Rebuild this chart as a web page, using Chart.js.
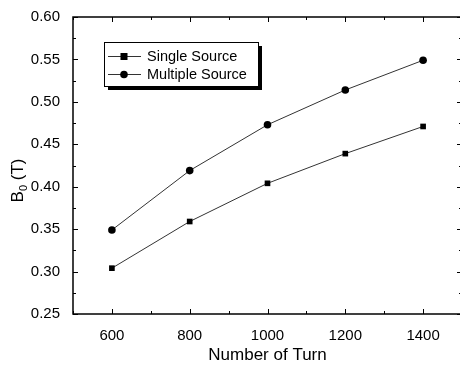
<!DOCTYPE html>
<html>
<head>
<meta charset="utf-8">
<script src="https://cdn.jsdelivr.net/npm/chart.js@4.4.1/dist/chart.umd.min.js"></script>
<style>
html, body { margin: 0; padding: 0; background: #fff; overflow: hidden; }
#wrap { width: 466px; height: 370px; }
</style>
</head>
<body>
<div id="wrap"><canvas id="chart"></canvas></div>
<script>
const turns = [600, 800, 1000, 1200, 1400];
const singleSource = [0.304, 0.359, 0.404, 0.439, 0.471];
const multipleSource = [0.349, 0.419, 0.473, 0.514, 0.549];
const xTicks = [600, 800, 1000, 1200, 1400];
const yTicks = [0.25, 0.30, 0.35, 0.40, 0.45, 0.50, 0.55, 0.60];
const seriesNames = ['Single Source', 'Multiple Source'];

const FONT = '"Liberation Sans", Arial, sans-serif';

// box frame with inward ticks, y title with subscript, shadowed legend
const framePlugin = {
  id: 'frame',
  afterDraw(chart) {
    const ctx = chart.ctx;
    const a = chart.chartArea;
    const xs = chart.scales.x, ys = chart.scales.y;
    ctx.save();
    ctx.strokeStyle = '#000';
    ctx.lineWidth = 1.5;
    ctx.strokeRect(a.left, a.top, a.right - a.left, a.bottom - a.top);

    ctx.lineWidth = 1;
    ctx.beginPath();
    const xStep = xTicks[1] - xTicks[0];
    for (let v = xs.min; v <= xs.max; v += xStep / 2) {
      const major = xTicks.includes(v);
      const len = major ? 5 : 3;
      const px = Math.round(xs.getPixelForValue(v)) + 0.5;
      ctx.moveTo(px, a.bottom); ctx.lineTo(px, a.bottom - len);
      ctx.moveTo(px, a.top); ctx.lineTo(px, a.top + len);
    }
    const yStep = yTicks[1] - yTicks[0];
    for (let i = 0; i <= (yTicks.length - 1) * 2; i++) {
      const v = yTicks[0] + i * yStep / 2;
      const len = i % 2 === 0 ? 5 : 3;
      const py = Math.round(ys.getPixelForValue(v)) + 0.5;
      ctx.moveTo(a.left, py); ctx.lineTo(a.left + len, py);
      ctx.moveTo(a.right, py); ctx.lineTo(a.right - len, py);
    }
    ctx.stroke();

    // y axis title: B0 (T)
    ctx.fillStyle = '#000';
    ctx.translate(23, (a.top + a.bottom) / 2 + 15);
    ctx.rotate(-Math.PI / 2);
    ctx.textBaseline = 'alphabetic';
    ctx.textAlign = 'left';
    ctx.font = '17px ' + FONT;
    const w1 = ctx.measureText('B').width;
    ctx.font = '11px ' + FONT;
    const w2 = ctx.measureText('0').width;
    ctx.font = '17px ' + FONT;
    const w3 = ctx.measureText(' (T)').width;
    let x0 = -(w1 + w2 + w3) / 2;
    ctx.fillText('B', x0, 0);
    ctx.font = '11px ' + FONT;
    ctx.fillText('0', x0 + w1, 4);
    ctx.font = '17px ' + FONT;
    ctx.fillText(' (T)', x0 + w1 + w2, 0);
    ctx.setTransform(1, 0, 0, 1, 0, 0);

    // legend
    const L = { left: 104, top: 42, right: 258, bottom: 86 };
    ctx.fillStyle = '#000';
    ctx.fillRect(L.left + 4, L.bottom, L.right - L.left, 4);
    ctx.fillRect(L.right, L.top + 4, 4, L.bottom - L.top);
    ctx.fillStyle = '#fff';
    ctx.fillRect(L.left, L.top, L.right - L.left, L.bottom - L.top);
    ctx.strokeStyle = '#000';
    ctx.lineWidth = 1;
    ctx.strokeRect(L.left + 0.5, L.top + 0.5, L.right - L.left, L.bottom - L.top);
    const rows = [56, 74];
    chart.data.datasets.forEach((ds, i) => {
      const y = rows[i];
      ctx.strokeStyle = '#333';
      ctx.lineWidth = 1;
      ctx.beginPath();
      ctx.moveTo(108, y + 0.5); ctx.lineTo(141, y + 0.5);
      ctx.stroke();
      ctx.fillStyle = '#000';
      if (ds.pointStyle === 'rect') {
        ctx.fillRect(124 - 3.5, y - 3, 7, 7);
      } else {
        ctx.beginPath();
        ctx.arc(124, y + 0.5, 3.8, 0, Math.PI * 2);
        ctx.fill();
      }
      ctx.font = '14.5px ' + FONT;
      ctx.textBaseline = 'middle';
      ctx.textAlign = 'left';
      ctx.fillText(ds.label, 147, y + 1);
    });
    ctx.restore();
  }
};

new Chart(document.getElementById('chart'), {
  type: 'line',
  data: {
    datasets: [
      {
        label: seriesNames[0],
        data: turns.map((t, i) => ({ x: t, y: singleSource[i] })),
        borderColor: '#333',
        borderWidth: 1,
        pointStyle: 'rect',
        pointRadius: 4,
        pointBackgroundColor: '#000',
        pointBorderColor: '#000',
        pointBorderWidth: 0
      },
      {
        label: seriesNames[1],
        data: turns.map((t, i) => ({ x: t, y: multipleSource[i] })),
        borderColor: '#333',
        borderWidth: 1,
        pointStyle: 'circle',
        pointRadius: 3.8,
        pointBackgroundColor: '#000',
        pointBorderColor: '#000',
        pointBorderWidth: 0
      }
    ]
  },
  options: {
    responsive: true,
    maintainAspectRatio: false,
    animation: false,
    layout: { padding: { left: 0, top: 17, right: 0, bottom: 0 } },
    plugins: {
      legend: { display: false },
      tooltip: { enabled: false }
    },
    scales: {
      x: {
        type: 'linear',
        min: 500,
        max: 1500,
        afterBuildTicks: s => { s.ticks = xTicks.map(v => ({ value: v })); },
        afterFit: s => { s.height = 56; },
        grid: { display: false },
        border: { display: false },
        ticks: { color: '#000', font: { family: FONT, size: 15 }, padding: 5, maxRotation: 0, callback: v => String(v) },
        title: { display: true, text: 'Number of Turn', color: '#000', font: { family: FONT, size: 17 }, padding: { top: 8 } }
      },
      y: {
        min: 0.25,
        max: 0.60,
        afterBuildTicks: s => { s.ticks = yTicks.map(v => ({ value: v })); },
        afterFit: s => { s.width = 73; },
        grid: { display: false },
        border: { display: false },
        ticks: { color: '#000', font: { family: FONT, size: 15 }, padding: 5, callback: v => v.toFixed(2) }
      }
    }
  },
  plugins: [framePlugin]
});
</script>
</body>
</html>
